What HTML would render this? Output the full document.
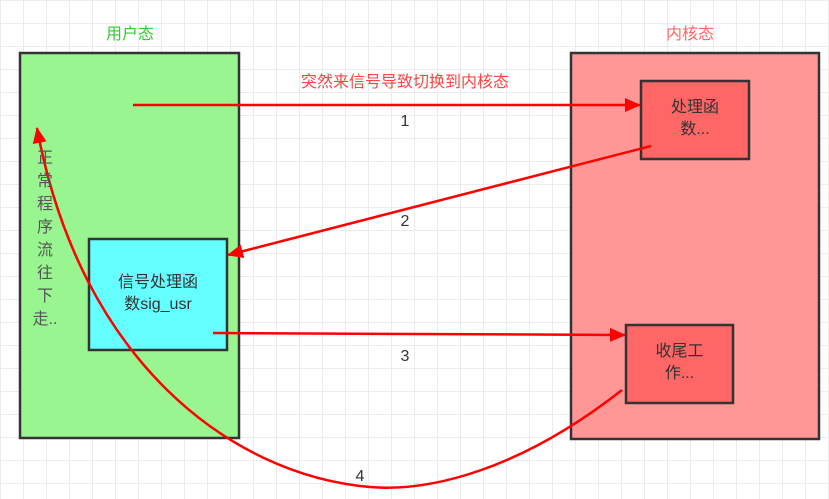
<!DOCTYPE html>
<html><head><meta charset="utf-8"><style>
body{margin:0;width:829px;height:499px;overflow:hidden;background:#fff;
background-image:linear-gradient(#ececec 1px,transparent 1px),linear-gradient(90deg,#ececec 1px,transparent 1px);background-size:23px 23px;
font-family:"Liberation Sans","Noto Sans CJK SC",sans-serif;}
.t{position:absolute;font-size:16px;text-align:center;line-height:22px}
</style></head><body>
<svg width="829" height="499" style="position:absolute;left:0;top:0">
<defs><marker id="b" markerWidth="16" markerHeight="14" refX="15" refY="7" orient="auto" markerUnits="userSpaceOnUse"><path d="M0,0L16,7L0,14z" fill="#f00"/></marker></defs>
<rect x="20" y="53" width="219" height="385" fill="#99f58f" stroke="#333" stroke-width="2.5"/>
<rect x="571" y="53" width="248" height="386" fill="#ff9797" stroke="#333" stroke-width="2.5"/>
<rect x="89" y="239" width="138" height="111" fill="#66ffff" stroke="#333" stroke-width="2.5"/>
<rect x="641" y="81" width="108" height="78" fill="#ff6666" stroke="#333" stroke-width="2.5"/>
<rect x="626" y="325" width="107" height="78" fill="#ff6666" stroke="#333" stroke-width="2.5"/>
<g stroke="#f00" stroke-width="2.5" fill="none">
<path d="M133,105L640,105" marker-end="url(#b)"/>
<path d="M651,146L228,255" marker-end="url(#b)"/>
<path d="M213,333L625,335" marker-end="url(#b)"/>
<path d="M622,390C520,470 430,492 370,487C230,475 80,360 37,128" marker-end="url(#b)"/>
</g></svg>
<div class="t" style="left:90px;top:24px;width:80px;color:#3c3">用户态</div>
<div class="t" style="left:650px;top:24px;width:80px;color:#f66">内核态</div>
<div class="t" style="left:240px;top:72px;width:330px;color:#f44">突然来信号导致切换到内核态</div>
<div class="t" style="left:395px;top:111px;width:20px;color:#333">1</div>
<div class="t" style="left:395px;top:211px;width:20px;color:#333">2</div>
<div class="t" style="left:395px;top:346px;width:20px;color:#333">3</div>
<div class="t" style="left:350px;top:466px;width:20px;color:#333">4</div>
<div class="t" style="left:30px;top:147px;width:30px;color:#555;line-height:23px">正<br>常<br>程<br>序<br>流<br>往<br>下<br>走..</div>
<div class="t" style="left:89px;top:272px;width:138px;color:#333">信号处理函<br>数sig_usr</div>
<div class="t" style="left:641px;top:97px;width:108px;color:#333">处理函<br>数...</div>
<div class="t" style="left:626px;top:341px;width:107px;color:#333">收尾工<br>作...</div>
</body></html>
